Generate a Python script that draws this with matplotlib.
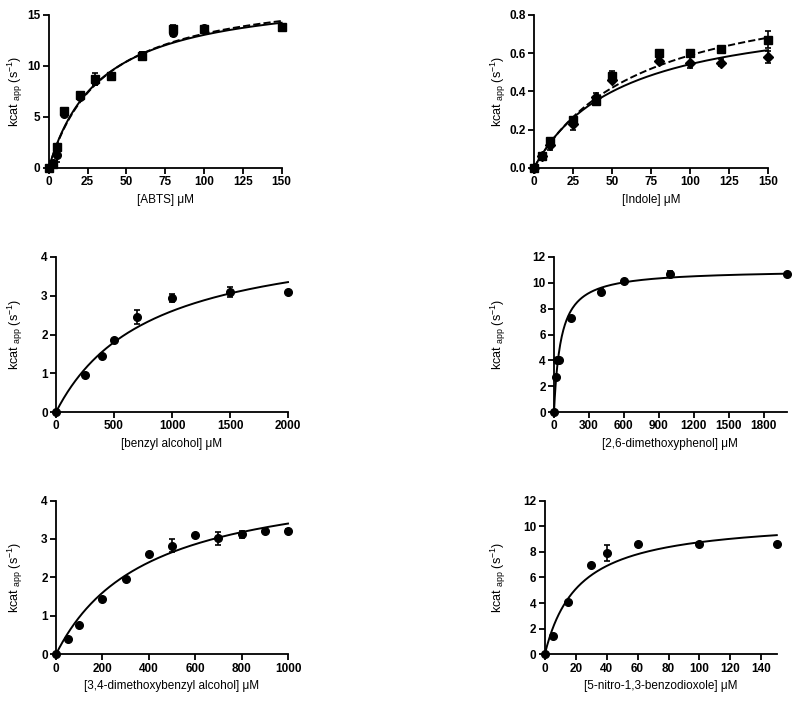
"""Michaelis-Menten kinetics of six substrates (kcat_app vs substrate concentration)."""

import numpy as np
import matplotlib
matplotlib.use("Agg")
import matplotlib.pyplot as plt
from matplotlib.transforms import blended_transform_factory

plt.rcParams["font.family"] = ["Liberation Sans", "DejaVu Sans"]
plt.rcParams["mathtext.fontset"] = "custom"
plt.rcParams["mathtext.rm"] = "Liberation Sans"
plt.rcParams["mathtext.it"] = "Liberation Sans:italic"
plt.rcParams["mathtext.sf"] = "Liberation Sans"

# ---- data ----
# ABTS: two data sets (squares / circles), each with its own fit
abts_x = [0, 2.5, 5, 10, 20, 30, 40, 60, 80, 100, 150]
abts_sq = [0, 0.4, 2.0, 5.6, 7.1, 8.7, 9.0, 11.0, 13.6, 13.6, 13.8]
abts_sq_err = [0, 0.2, 0.3, 0.2, 0.3, 0.6, 0.1, 0.3, 0.4, 0.1, 0.1]
abts_ci = [0, 0.5, 1.3, 5.3, 6.9, 8.5, 9.0, 11.1, 13.2, 13.7, 13.8]
abts_ci_err = [0, 0.2, 0.7, 0.2, 0.2, 0.4, 0.1, 0.2, 0.3, 0.1, 0.1]
abts_fit_solid = (17.4, 33.6)   # (Vmax, Km)
abts_fit_dash = (17.8, 35.5)

indole_x = [0, 5, 10, 25, 40, 50, 80, 100, 120, 150]
indole_sq = [0, 0.06, 0.14, 0.25, 0.35, 0.48, 0.60, 0.60, 0.62, 0.67]
indole_sq_err = [0, 0.005, 0.015, 0.015, 0.02, 0.025, 0.015, 0.015, 0.005, 0.045]
indole_di = [0, 0.06, 0.12, 0.23, 0.37, 0.46, 0.56, 0.55, 0.55, 0.58]
indole_di_err = [0, 0.005, 0.025, 0.03, 0.02, 0.01, 0.01, 0.03, 0.02, 0.03]
indole_fit_solid = (0.846, 56.3)
indole_fit_dash = (0.99, 68.4)

benzyl_x = [0, 250, 400, 500, 700, 1000, 1500, 2000]
benzyl_y = [0, 0.95, 1.45, 1.85, 2.45, 2.95, 3.1, 3.1]
benzyl_err = [0, 0.02, 0.03, 0.03, 0.17, 0.1, 0.13, 0.03]
benzyl_fit = (4.70, 805)

dmp_x = [0, 15, 25, 45, 150, 400, 600, 1000, 2000]
dmp_y = [0, 2.7, 4.0, 4.0, 7.3, 9.3, 10.15, 10.7, 10.7]
dmp_err = [0, 0.05, 0.05, 0.05, 0.1, 0.2, 0.05, 0.2, 0.05]
dmp_fit = (11.02, 59)

dmba_x = [0, 50, 100, 200, 300, 400, 500, 600, 700, 800, 900, 1000]
dmba_y = [0, 0.4, 0.77, 1.43, 1.97, 2.6, 2.82, 3.1, 3.02, 3.12, 3.22, 3.22]
dmba_err = [0, 0.02, 0.02, 0.03, 0.03, 0.03, 0.17, 0.03, 0.17, 0.1, 0.03, 0.03]
dmba_fit = (4.73, 391)

nitro_x = [0, 5, 15, 30, 40, 60, 100, 150]
nitro_y = [0, 1.45, 4.1, 7.0, 7.9, 8.6, 8.6, 8.6]
nitro_err = [0, 0.05, 0.05, 0.05, 0.65, 0.05, 0.05, 0.05]
nitro_fit = (10.65, 21.8)

YLABEL = r"kcat $_{\mathsf{app}}$ (s$^{\mathsf{-1}}$)"


def mm(x, vmax, km):
    return vmax * x / (km + x)


def style(fig, ax, xlim, ylim, xticks, yticks, xlabel, ylab_x, yfmt="{:g}"):
    ax.set_xlim(*xlim); ax.set_ylim(*ylim)
    ax.set_xticks(xticks); ax.set_yticks(yticks)
    ax.set_yticklabels([yfmt.format(t) for t in yticks])
    for s in ["top", "right"]:
        ax.spines[s].set_visible(False)
    for s in ["left", "bottom"]:
        ax.spines[s].set_linewidth(1.3)
    ax.tick_params(direction="out", length=4, width=1.3, labelsize=8.5, pad=2)
    for lab in ax.get_xticklabels() + ax.get_yticklabels():
        lab.set_fontweight("bold")
    ax.set_xlabel(xlabel, fontsize=8.5, labelpad=4)
    ax.set_ylabel(YLABEL, fontsize=9)
    # GraphPad put the y titles at a fixed column of the page
    ax.yaxis.set_label_coords(ylab_x, 0.5,
                              transform=blended_transform_factory(fig.transFigure, ax.transAxes))


def points(ax, x, y, err, marker):
    ax.errorbar(x, y, yerr=err, fmt=marker, color="black", ms=5.5, capsize=2.5,
                elinewidth=1.2, capthick=1.2, clip_on=False, zorder=3)


def curve(ax, fit, xmax, ls="-"):
    xs = np.linspace(0, xmax, 300)
    ax.plot(xs, mm(xs, *fit), color="black", lw=1.4, ls=ls, clip_on=False)


fig = plt.figure(figsize=(8.0, 7.02), dpi=100)
LX, RX = 25 / 800, 508 / 800

# top row
ax1 = fig.add_axes([0.061, 0.761, 0.291, 0.218])
points(ax1, abts_x, abts_ci, abts_ci_err, "o")
points(ax1, abts_x, abts_sq, abts_sq_err, "s")
curve(ax1, abts_fit_solid, 150)
curve(ax1, abts_fit_dash, 150, ls="--")
style(fig, ax1, (0, 150), (0, 15), range(0, 151, 25), [0, 5, 10, 15], "[ABTS] \u03bcM", LX)

ax2 = fig.add_axes([0.6675, 0.761, 0.2925, 0.218])
points(ax2, indole_x, indole_di, indole_di_err, "D")
points(ax2, indole_x, indole_sq, indole_sq_err, "s")
curve(ax2, indole_fit_solid, 150)
curve(ax2, indole_fit_dash, 150, ls="--")
style(fig, ax2, (0, 150), (0, 0.8), range(0, 151, 25), [0, 0.2, 0.4, 0.6, 0.8],
      "[Indole] \u03bcM", RX, yfmt="{:.1f}")

# middle row
ax3 = fig.add_axes([0.07, 0.413, 0.29, 0.221])
points(ax3, benzyl_x, benzyl_y, benzyl_err, "o")
curve(ax3, benzyl_fit, 2000)
style(fig, ax3, (0, 2000), (0, 4), range(0, 2001, 500), [0, 1, 2, 3, 4],
      "[benzyl alcohol] \u03bcM", LX)

ax4 = fig.add_axes([0.6925, 0.413, 0.291, 0.221])
points(ax4, dmp_x, dmp_y, dmp_err, "o")
curve(ax4, dmp_fit, 2000)
style(fig, ax4, (0, 2000), (0, 12), range(0, 1801, 300), [0, 2, 4, 6, 8, 10, 12],
      "[2,6-dimethoxyphenol] \u03bcM", RX)

# bottom row
ax5 = fig.add_axes([0.07, 0.068, 0.29, 0.219])
points(ax5, dmba_x, dmba_y, dmba_err, "o")
curve(ax5, dmba_fit, 1000)
style(fig, ax5, (0, 1000), (0, 4), range(0, 1001, 200), [0, 1, 2, 3, 4],
      "[3,4-dimethoxybenzyl alcohol] \u03bcM", LX)

ax6 = fig.add_axes([0.681, 0.068, 0.29, 0.219])
points(ax6, nitro_x, nitro_y, nitro_err, "o")
curve(ax6, nitro_fit, 150)
style(fig, ax6, (0, 150), (0, 12), range(0, 141, 20), [0, 2, 4, 6, 8, 10, 12],
      "[5-nitro-1,3-benzodioxole] \u03bcM", RX)

fig.savefig("out.png", dpi=100)
